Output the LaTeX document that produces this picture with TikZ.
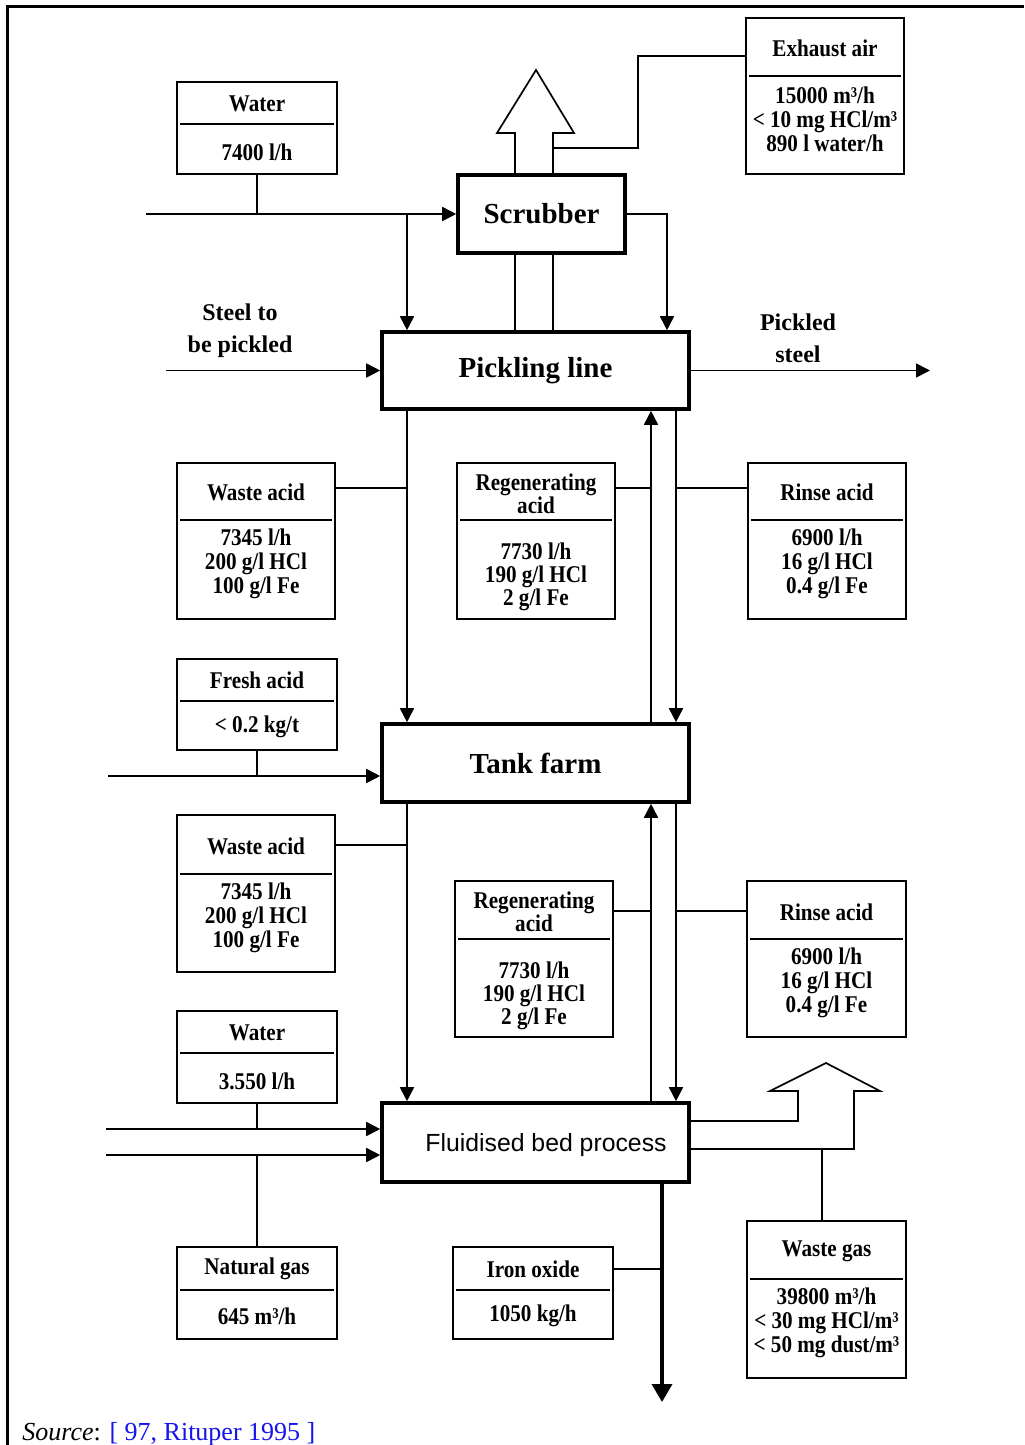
\documentclass[tikz,border=0pt]{standalone}
\usepackage{fontspec}
\setmainfont{Liberation Serif}
\newfontfamily\bxfont{Liberation Serif}[FakeStretch=0.88]
\newfontfamily\fbsans{Liberation Sans}
\usetikzlibrary{arrows.meta}
\definecolor{srcblue}{RGB}{20,20,235}
\newcommand\dbx[6]{%
  \node[dbox, minimum width=#4pt, minimum height=#5pt] (#1) at (#2,#3) {};
  \draw[divl] ({#2-#4+3},#6) -- ({#2+#4-3},#6);}
\begin{document}
\begin{tikzpicture}[x=0.5pt,y=-0.5pt,
  bigbox/.style={draw, line width=1.8pt, inner sep=0pt, font=\fontsize{14.5}{17}\selectfont\bfseries},
  dbox/.style={draw, line width=1pt, inner sep=0pt},
  divl/.style={line width=1pt},
  ttl/.style={font=\bxfont\fontsize{12}{12}\selectfont\bfseries, align=center, inner sep=0pt},
  lbl/.style={font=\fontsize{12}{16}\selectfont\bfseries, align=center, inner sep=0pt},
  conn/.style={line width=0.85pt},
  flow/.style={conn, -{Triangle[length=7pt,width=7pt]}},
  bigflow/.style={line width=1.8pt, -{Triangle[length=9pt,width=10pt]}}]
\useasboundingbox (0,0) rectangle (1024,1445);
% frame
\draw[line width=1.5pt] (7,1445) -- (7,7) -- (1024,7);

% coordinates (columns and rows)
\coordinate (c407) at (407,0);
\coordinate (c515) at (515,0);
\coordinate (c553) at (553,0);
\coordinate (c638) at (638,0);
\coordinate (c651) at (651,0);
\coordinate (c662) at (662,0);
\coordinate (c667) at (667,0);
\coordinate (c676) at (676,0);
\coordinate (c822) at (822,0);
\coordinate (r56) at (0,56);
\coordinate (r148) at (0,148);
\coordinate (r488) at (0,488);
\coordinate (r776) at (0,776);
\coordinate (r845) at (0,845);
\coordinate (r911) at (0,911);
\coordinate (r1121) at (0,1121);
\coordinate (r1129) at (0,1129);
\coordinate (r1149) at (0,1149);
\coordinate (r1155) at (0,1155);
\coordinate (r1269) at (0,1269);
\coordinate (r1402) at (0,1402);
\coordinate (waterin) at (146,214);
\coordinate (steelin) at (166,370.5);
\coordinate (steelout) at (930,370.5);
\coordinate (freshin) at (108,776);
\coordinate (water2in) at (106,1129);
\coordinate (gasin) at (106,1155);

% main process boxes
\node[bigbox, minimum width=83.5pt, minimum height=39pt] (scrub) at (541.5,214) {Scrubber};
\node[bigbox, minimum width=153.5pt, minimum height=38.5pt] (pick) at (535.5,370.5) {Pickling line};
\node[bigbox, minimum width=153.5pt, minimum height=39pt] (tank) at (535.5,763) {Tank farm};
\node[bigbox, minimum width=153.5pt, minimum height=39.5pt] (fbed) at (535.5,1142.5) {};
\node[font=\fbsans\fontsize{12.4}{14}\selectfont, inner sep=0pt] (fbedt) at (546,1145) {Fluidised bed process};

% data boxes
\dbx{exh}{825}{96}{79}{78}{76}
\node[ttl] (exha) at (825,48) {Exhaust air};
\node[ttl] (exhb) at (825,119) {15000 m³/h\\< 10 mg HCl/m³\\890 l water/h};

\dbx{water1}{257}{128}{80}{46}{124}
\node[ttl] (water1a) at (257,104) {Water};
\node[ttl] (water1b) at (257,152) {7400 l/h};

\dbx{waste1}{256}{541}{79}{78}{520}
\node[ttl] (waste1a) at (256,492) {Waste acid};
\node[ttl] (waste1b) at (256,564) {7345 l/h\\200 g/l HCl\\100 g/l Fe};

\dbx{regen1}{536}{541}{79}{78}{520}
\node[ttl, font=\bxfont\fontsize{12}{11.5}\selectfont\bfseries] (regen1a) at (536,494) {Regenerating\\acid};
\node[ttl, font=\bxfont\fontsize{12}{11.5}\selectfont\bfseries] (regen1b) at (536,577) {7730 l/h\\190 g/l HCl\\2 g/l Fe};

\dbx{rinse1}{827}{541}{79}{78}{520}
\node[ttl] (rinse1a) at (827,492) {Rinse acid};
\node[ttl] (rinse1b) at (827,564) {6900 l/h\\16 g/l HCl\\0.4 g/l Fe};

\dbx{fresh}{257}{704.5}{80}{45.5}{701}
\node[ttl] (fresha) at (257,680) {Fresh acid};
\node[ttl] (freshb) at (257,727) {< 0.2 kg/t};

\dbx{waste2}{256}{893.5}{79}{78.5}{874}
\node[ttl] (waste2a) at (256,846) {Waste acid};
\node[ttl] (waste2b) at (256,918) {7345 l/h\\200 g/l HCl\\100 g/l Fe};

\dbx{regen2}{534}{959}{79}{78}{939}
\node[ttl, font=\bxfont\fontsize{12}{11.5}\selectfont\bfseries] (regen2a) at (534,911.5) {Regenerating\\acid};
\node[ttl, font=\bxfont\fontsize{12}{11.5}\selectfont\bfseries] (regen2b) at (534,996) {7730 l/h\\190 g/l HCl\\2 g/l Fe};

\dbx{rinse2}{826.5}{959}{79.5}{78}{939}
\node[ttl] (rinse2a) at (826.5,912) {Rinse acid};
\node[ttl] (rinse2b) at (826.5,983) {6900 l/h\\16 g/l HCl\\0.4 g/l Fe};

\dbx{water2}{257}{1057}{80}{46}{1053}
\node[ttl] (water2a) at (257,1033) {Water};
\node[ttl] (water2b) at (257,1081) {3.550 l/h};

\dbx{natgas}{257}{1293}{80}{46}{1290}
\node[ttl] (natgasa) at (257,1269) {Natural gas};
\node[ttl] (natgasb) at (257,1316) {645 m³/h};

\dbx{iron}{533}{1293}{80}{46}{1290}
\node[ttl] (irona) at (533,1269) {Iron oxide};
\node[ttl] (ironb) at (533,1316) {1050 kg/h};

\dbx{wgas}{826.5}{1299.5}{79.5}{78.5}{1279}
\node[ttl] (wgasa) at (826.5,1251) {Waste gas};
\node[ttl] (wgasb) at (826.5,1323) {39800 m³/h\\< 30 mg HCl/m³\\< 50 mg dust/m³};

% free labels
\node[lbl] (steellbl) at (240,331) {Steel to\\be pickled};
\node[lbl] (pickledlbl) at (798,338) {Pickled\\steel};

% ---- connectors: scrubber area
\draw[conn] (water1.south) -- (water1.south |- scrub.west);
\draw[flow] (waterin) -- (scrub.west);
\draw[flow] (c407 |- scrub.west) -- (pick.north -| c407);
\draw[flow] (scrub.east) -| (pick.north -| c667);
\draw[conn] (scrub.south -| c515) -- (pick.north -| c515);
\draw[conn] (scrub.south -| c553) -- (pick.north -| c553);
\draw[conn, line join=miter] (scrub.north -| c515) -- (515,133) -- (497,133) -- (536,70) -- (574,133) -- (553,133) -- (scrub.north -| c553);
\draw[conn] (exh.west |- r56) -| (c638 |- r148) -- (c553 |- r148);

% pickling line
\draw[flow] (steelin) -- (pick.west);
\draw[flow] (pick.east) -- (steelout);
\draw[flow] (pick.south -| c407) -- (tank.north -| c407);
\draw[flow] (tank.north -| c651) -- (pick.south -| c651);
\draw[flow] (pick.south -| c676) -- (tank.north -| c676);
\draw[conn] (waste1.east |- r488) -- (c407 |- r488);
\draw[conn] (regen1.east |- r488) -- (c651 |- r488);
\draw[conn] (rinse1.west |- r488) -- (c676 |- r488);

% tank farm
\draw[conn] (fresh.south) -- (fresh.south |- r776);
\draw[flow] (freshin) -- (tank.west |- r776);
\draw[flow] (tank.south -| c407) -- (fbed.north -| c407);
\draw[flow] (fbed.north -| c651) -- (tank.south -| c651);
\draw[flow] (tank.south -| c676) -- (fbed.north -| c676);
\draw[conn] (waste2.east |- r845) -- (c407 |- r845);
\draw[conn] (regen2.east |- r911) -- (c651 |- r911);
\draw[conn] (rinse2.west |- r911) -- (c676 |- r911);

% fluidised bed
\draw[conn] (water2.south) -- (water2.south |- r1129);
\draw[flow] (water2in) -- (fbed.west |- r1129);
\draw[flow] (gasin) -- (fbed.west |- r1155);
\draw[conn] (natgas.north) -- (natgas.north |- r1155);
\draw[conn, line join=miter] (fbed.east |- r1121) -- (798,1121) -- (798,1091) -- (770,1091) -- (826,1063) -- (880,1091) -- (854,1091) -- (854,1149) -- (fbed.east |- r1149);
\draw[conn] (wgas.north -| c822) -- (c822 |- r1149);
\draw[bigflow] (fbed.south -| c662) -- (c662 |- r1402);
\draw[conn] (iron.east |- r1269) -- (c662 |- r1269);

% source
\node[anchor=base west, inner sep=0pt, font=\fontsize{13}{15}\selectfont] (src) at (22,1440) {\textit{Source}: \textcolor{srcblue}{[ 97, Rituper 1995 ]}};
\end{tikzpicture}
\end{document}
